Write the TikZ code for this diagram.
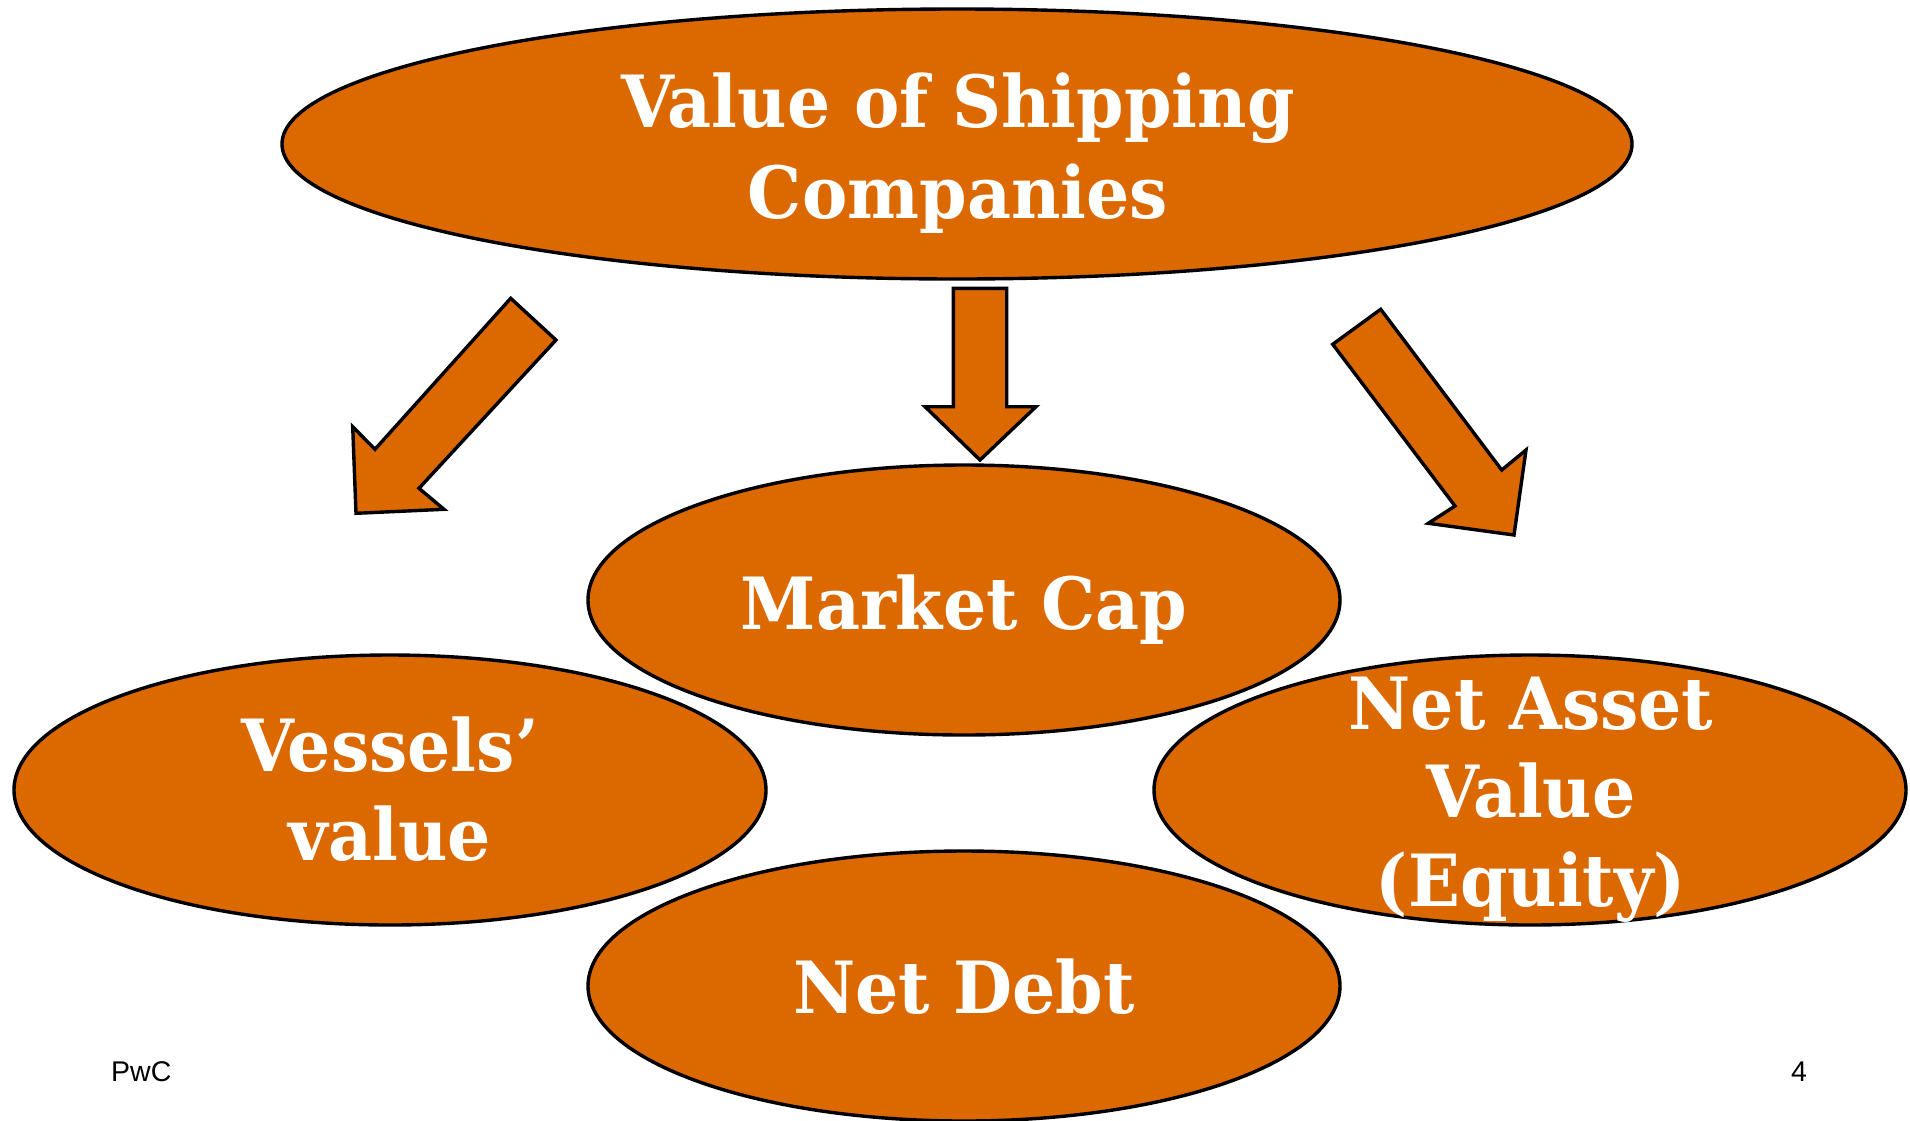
\documentclass[tikz,border=0pt]{standalone}
\usepackage{fontspec}
\newfontfamily\footfont{Liberation Sans}
\newfontfamily\boldserif{DejaVu Serif Bold}[FakeStretch=0.945]
\usetikzlibrary{shapes.geometric}
\definecolor{pwcorange}{RGB}{220,104,0}
\newcommand{\schola}{\boldserif\fontsize{72}{89}\selectfont}
\tikzset{
  oval/.style={ellipse, draw=black, line width=3.4pt, fill=pwcorange, inner sep=0pt, outer sep=0pt, minimum width=752pt, minimum height=270pt},
  bigoval/.style={oval, minimum width=1350pt, minimum height=270pt},
  txt/.style={anchor=base, text=white, inner sep=0pt, font=\schola},
  fat arrow/.style={draw=black, line width=3.4pt, fill=pwcorange, line join=miter},
  foot/.style={anchor=base west, inner sep=0pt, font=\footfont\fontsize{28.5}{32}\selectfont}
}
\begin{document}
\begin{tikzpicture}[x=1pt,y=-1pt]
\useasboundingbox (0,0) rectangle (1910,1120);
% top ellipse
\node[bigoval] (top) at (957,144) {};
\node[txt] (top1) at (958,127) {Value of Shipping};
\node[txt] (top2) at (958,218) {Companies};
% arrows
\draw[fat arrow] (510.7,298.3) -- (556,340) -- (419,488.3) -- (444,509.3) -- (356,513.3) -- (352.7,426.7) -- (375,449.3) -- cycle;
\draw[fat arrow] (953.3,288.3) -- (1006.7,288.3) -- (1006.7,406.7) -- (1036,406.7) -- (980,460) -- (925,406.7) -- (953.3,406.7) -- cycle;
\draw[fat arrow] (1380.7,309.3) -- (1501.7,470) -- (1526,450) -- (1514,535) -- (1428.3,523.3) -- (1455,506) -- (1332.7,344.3) -- cycle;
% lower ellipses
\node[oval] (vessels) at (390,790) {};
\node[txt] (ves1) at (390,771) {Vessels’};
\node[txt] (ves2) at (390,860) {value};
\node[oval] (mcap) at (964,600) {};
\node[txt] (mcap1) at (964,629) {Market Cap};
\node[oval] (nav) at (1530,790) {};
\node[txt] (nav1) at (1531,729) {Net Asset};
\node[txt] (nav2) at (1531,817) {Value};
\node[txt] (nav3) at (1531,906) {(Equity)};
\node[oval] (debt) at (964,986) {};
\node[txt] (debt1) at (964,1013) {Net Debt};
% footer
\node[foot] (pwc) at (111,1081) {PwC};
\node[foot] (pnum) at (1791,1081) {4};
\end{tikzpicture}
\end{document}
